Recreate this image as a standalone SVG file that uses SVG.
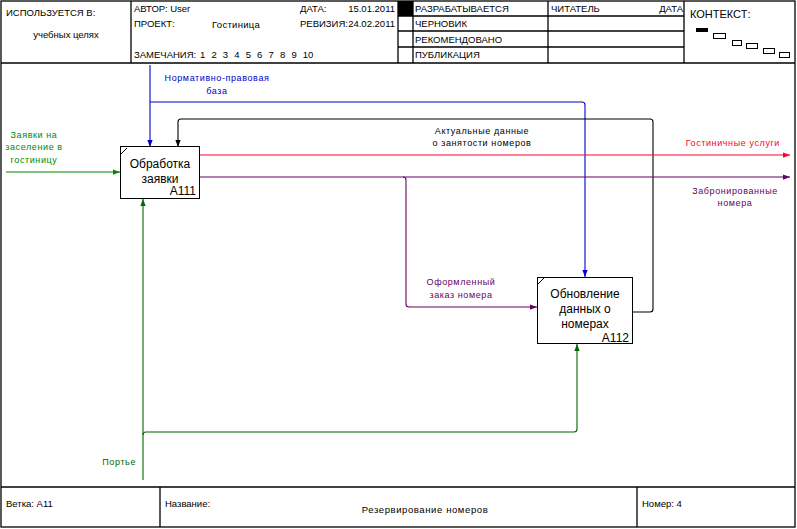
<svg xmlns="http://www.w3.org/2000/svg" width="797" height="529" viewBox="0 0 797 529">
<style>
.frame{fill:none;stroke:#000;stroke-width:1.3}
.t{font-family:"Liberation Sans",Arial,sans-serif;font-size:9.5px;fill:#000}
.lbl{font-family:"Liberation Sans",Arial,sans-serif;font-size:9px;letter-spacing:0.6px}
.box{fill:#fff;stroke:#000;stroke-width:1}
.bt{font-family:"Liberation Sans",Arial,sans-serif;font-size:12px;fill:#000}
.c{fill:none;stroke-width:1.1}
</style>
<defs>
<marker id="aBlue" viewBox="0 0 8 6" refX="8" refY="3" markerUnits="userSpaceOnUse" markerWidth="7" markerHeight="6" orient="auto"><path d="M0,0 L8,3 L0,6 Z" fill="#0000cc"/></marker>
<marker id="aBlack" viewBox="0 0 8 6" refX="8" refY="3" markerUnits="userSpaceOnUse" markerWidth="7" markerHeight="6" orient="auto"><path d="M0,0 L8,3 L0,6 Z" fill="#000"/></marker>
<marker id="aRed" viewBox="0 0 8 6" refX="8" refY="3" markerUnits="userSpaceOnUse" markerWidth="7" markerHeight="6" orient="auto"><path d="M0,0 L8,3 L0,6 Z" fill="#ff0033"/></marker>
<marker id="aPurple" viewBox="0 0 8 6" refX="8" refY="3" markerUnits="userSpaceOnUse" markerWidth="7" markerHeight="6" orient="auto"><path d="M0,0 L8,3 L0,6 Z" fill="#660066"/></marker>
<marker id="aGreen" viewBox="0 0 8 6" refX="8" refY="3" markerUnits="userSpaceOnUse" markerWidth="7" markerHeight="6" orient="auto"><path d="M0,0 L8,3 L0,6 Z" fill="#008800"/></marker>
<marker id="aDGreen" viewBox="0 0 8 6" refX="8" refY="3" markerUnits="userSpaceOnUse" markerWidth="7" markerHeight="6" orient="auto"><path d="M0,0 L8,3 L0,6 Z" fill="#006600"/></marker>
</defs>
<rect width="797" height="529" fill="#fff"/>

<g id="frame">
<rect class="frame" x="1" y="1" width="794" height="526"/>
<line class="frame" x1="1" y1="63" x2="795" y2="63"/>
<line class="frame" x1="131" y1="1" x2="131" y2="63"/>
<line class="frame" x1="398" y1="1" x2="398" y2="63"/>
<line class="frame" x1="413" y1="1" x2="413" y2="63"/>
<line class="frame" x1="548" y1="1" x2="548" y2="63"/>
<line class="frame" x1="684" y1="1" x2="684" y2="63"/>
<line class="frame" x1="398" y1="16" x2="684" y2="16"/>
<line class="frame" x1="398" y1="31" x2="684" y2="31"/>
<line class="frame" x1="398" y1="47" x2="684" y2="47"/>
<rect x="398" y="1" width="15" height="15" fill="#000"/>
<text class="t" x="6" y="16">ИСПОЛЬЗУЕТСЯ В:</text>
<text class="t" x="66" y="38" text-anchor="middle">учебных целях</text>
<text class="t" x="134" y="12">АВТОР: User</text>
<text class="t" x="134" y="27">ПРОЕКТ:</text>
<text class="t" x="212" y="28" style="letter-spacing:0.3px">Гостиница</text>
<text class="t" x="300" y="12">ДАТА:</text>
<text class="t" x="395" y="12" text-anchor="end">15.01.2011</text>
<text class="t" x="300" y="27">РЕВИЗИЯ:</text>
<text class="t" x="395" y="27" text-anchor="end">24.02.2011</text>
<text class="t" x="134" y="58">ЗАМЕЧАНИЯ:</text>
<text class="t" x="200" y="58" style="word-spacing:3.5px">1 2 3 4 5 6 7 8 9 10</text>
<text class="t" x="415" y="12">РАЗРАБАТЫВАЕТСЯ</text>
<text class="t" x="415" y="27">ЧЕРНОВИК</text>
<text class="t" x="415" y="43">РЕКОМЕНДОВАНО</text>
<text class="t" x="415" y="58">ПУБЛИКАЦИЯ</text>
<text class="t" x="551" y="12">ЧИТАТЕЛЬ</text>
<text class="t" x="683" y="12" text-anchor="end">ДАТА</text>
<text class="t" x="690" y="18" style="font-size:11px">КОНТЕКСТ:</text>
<rect x="696" y="28" width="12" height="4" fill="#000"/>
<g fill="#fff" stroke="#000" stroke-width="1">
<rect x="713.5" y="33.5" width="12" height="5"/>
<rect x="732.5" y="40.5" width="9" height="5"/>
<rect x="746.5" y="43.5" width="11" height="5"/>
<rect x="763.5" y="48.5" width="11" height="5"/>
<rect x="779.5" y="52.5" width="10" height="5"/>
</g>
<line class="frame" x1="1" y1="487" x2="795" y2="487"/>
<line class="frame" x1="160" y1="487" x2="160" y2="527"/>
<line class="frame" x1="637" y1="487" x2="637" y2="527"/>
<text class="t" x="6" y="507">Ветка:  A11</text>
<text class="t" x="165" y="507">Название:</text>
<text class="t" x="425" y="513" text-anchor="middle" style="letter-spacing:0.6px">Резервирование номеров</text>
<text class="t" x="642" y="507">Номер: 4</text>
</g>

<g id="connectors">
<path class="c" stroke="#0000cc" d="M150,65 V147" marker-end="url(#aBlue)"/>
<path class="c" stroke="#0000cc" d="M150,102 H582 Q585,102 585,105 V277" marker-end="url(#aBlue)"/>
<path class="c" stroke="#000" d="M632,312 H650 Q653,312 653,309 V122 Q653,119 650,119 H181 Q178,119 178,122 V147" marker-end="url(#aBlack)"/>
<path class="c" stroke="#ff0033" d="M200,155 H790" marker-end="url(#aRed)"/>
<path class="c" stroke="#660066" d="M200,177 H790" marker-end="url(#aPurple)"/>
<path class="c" stroke="#660066" d="M403,177 Q406,177 406,180 V304 Q406,307 409,307 H537" marker-end="url(#aPurple)"/>
<path class="c" stroke="#008800" d="M6,172 H120" marker-end="url(#aGreen)"/>
<path class="c" stroke="#006600" d="M143,480 V199" marker-end="url(#aDGreen)"/>
<path class="c" stroke="#006600" d="M143,435 Q143,432 146,432 H574 Q577,432 577,429 V344" marker-end="url(#aDGreen)"/>
<text class="lbl" fill="#0000cc" x="217" y="81" text-anchor="middle">Нормативно-правовая</text>
<text class="lbl" fill="#0000cc" x="217" y="94" text-anchor="middle">база</text>
<text class="lbl" fill="#000" x="482" y="134" text-anchor="middle">Актуальные данные</text>
<text class="lbl" fill="#000" x="482" y="146" text-anchor="middle">о занятости номеров</text>
<text class="lbl" fill="#ff0033" x="780" y="146" text-anchor="end">Гостиничные услуги</text>
<text class="lbl" fill="#660066" x="735" y="194" text-anchor="middle">Забронированные</text>
<text class="lbl" fill="#660066" x="735" y="206" text-anchor="middle">номера</text>
<text class="lbl" fill="#660066" x="461" y="285" text-anchor="middle">Оформленный</text>
<text class="lbl" fill="#660066" x="461" y="298" text-anchor="middle">заказ номера</text>
<text class="lbl" fill="#008800" x="34" y="138" text-anchor="middle">Заявки на</text>
<text class="lbl" fill="#008800" x="34" y="150" text-anchor="middle">заселение в</text>
<text class="lbl" fill="#008800" x="34" y="163" text-anchor="middle">гостиницу</text>
<text class="lbl" fill="#006600" x="136" y="465" text-anchor="end">Портье</text>
</g>

<g id="A111">
<rect class="box" x="120.5" y="146.5" width="79" height="52"/>
<line x1="121" y1="154" x2="127" y2="148" stroke="#000" stroke-width="1"/>
<text class="bt" x="160" y="168" text-anchor="middle">Обработка</text>
<text class="bt" x="160" y="183" text-anchor="middle">заявки</text>
<text class="bt" x="196" y="195" text-anchor="end">A111</text>
</g>

<g id="A112">
<rect class="box" x="537.5" y="277.5" width="95" height="66"/>
<line x1="538" y1="284" x2="544" y2="278" stroke="#000" stroke-width="1"/>
<text class="bt" x="585" y="298" text-anchor="middle">Обновление</text>
<text class="bt" x="585" y="313" text-anchor="middle">данных о</text>
<text class="bt" x="585" y="328" text-anchor="middle">номерах</text>
<text class="bt" x="629" y="342" text-anchor="end">A112</text>
</g>
</svg>
